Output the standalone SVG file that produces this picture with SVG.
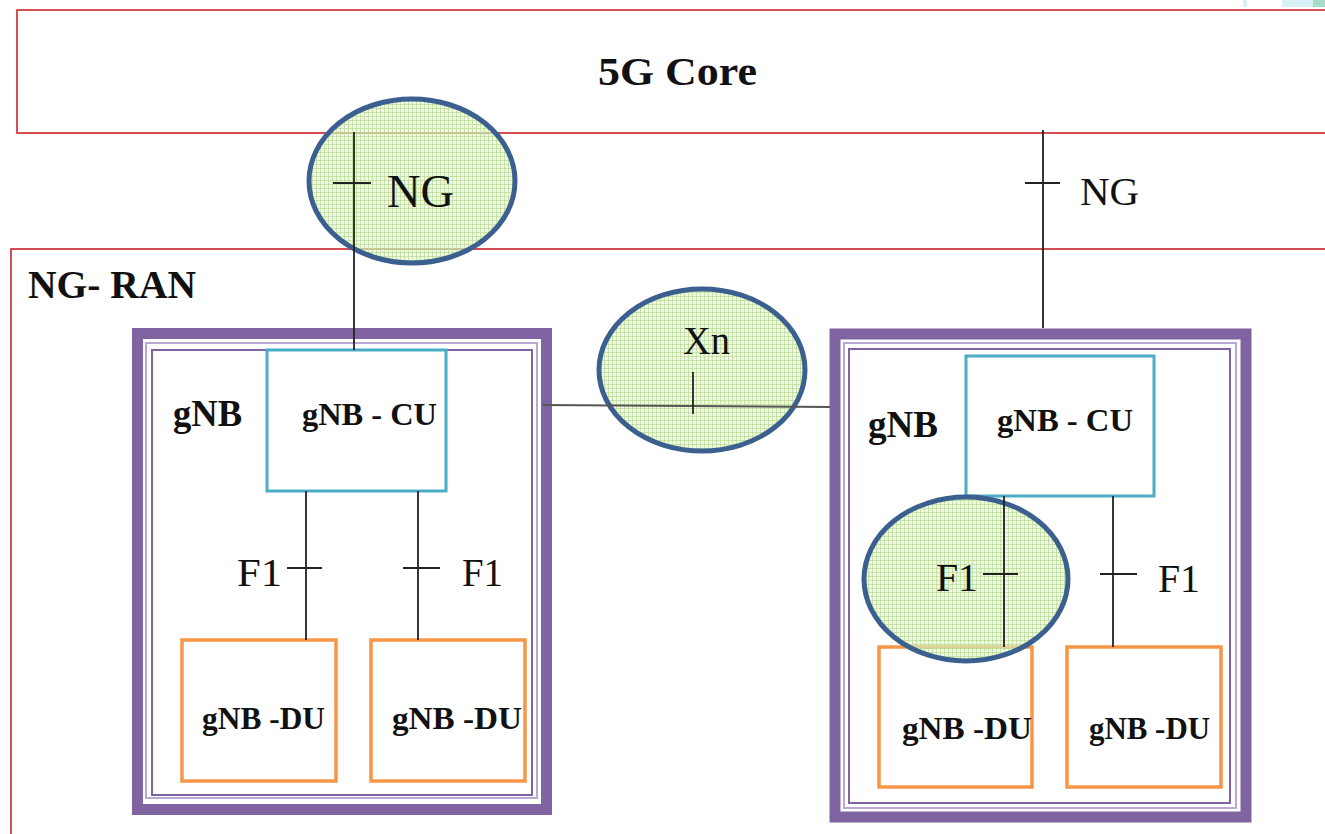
<svg xmlns="http://www.w3.org/2000/svg" width="1325" height="834" viewBox="0 0 1325 834">
<defs>
<pattern id="grid" width="4" height="4" patternUnits="userSpaceOnUse">
<rect width="4" height="4" fill="#E6F1D3" fill-opacity="0.6"/>
<path d="M0 0.5H4M0.5 0V4" stroke="#B2D98A" stroke-width="1" stroke-opacity="0.65"/>
</pattern>
<style>
.red{fill:none;stroke:#CC2228;stroke-width:1.6}
.gout{fill:none;stroke:#8064A2;stroke-width:11}
.glav{fill:none;stroke:#B8A9D4;stroke-width:2}
.gin{fill:none;stroke:#8064A2;stroke-width:2}
.cu{fill:#fff;stroke:#4BACC6;stroke-width:3}
.du{fill:#fff;stroke:#F79646;stroke-width:3.5}
.ln{stroke:#222;stroke-width:1.8;fill:none}
.xn{stroke:#555;stroke-width:2;fill:none}
.ell{fill:url(#grid);stroke:#3B5F8E;stroke-width:5}
.b{font-family:"Liberation Serif","Times New Roman",serif;font-weight:bold;fill:#111}
.r{font-family:"Liberation Serif","Times New Roman",serif;fill:#111}
</style>
</defs>
<rect width="1325" height="834" fill="#fff"/>
<g id="corner-deco">
<rect x="1243" y="0" width="4" height="7" fill="#D8F0F6"/>
<rect x="1282" y="0" width="31" height="7" fill="#D8F0F6"/>
<rect x="1313" y="0" width="12" height="7" fill="#A8DCC8"/>
</g>
<g id="core">
<rect class="red" x="17" y="10" width="1320" height="123"/>
<text class="b" x="598" y="85" font-size="41" textLength="159" lengthAdjust="spacingAndGlyphs">5G Core</text>
</g>
<g id="ngran">
<rect class="red" x="11" y="249" width="1330" height="600"/>
<text class="b" x="28" y="298" font-size="39" textLength="168" lengthAdjust="spacingAndGlyphs">NG- RAN</text>
</g>
<g id="gnb-left">
<rect class="gout" x="137.5" y="333.5" width="409" height="476"/>
<rect class="glav" x="146" y="343" width="391" height="455"/>
<rect class="gin" x="152" y="350" width="380" height="445"/>
<text class="b" x="173" y="426" font-size="37" textLength="69" lengthAdjust="spacingAndGlyphs">gNB</text>
</g>
<g id="gnb-right">
<rect class="gout" x="835" y="334" width="411" height="483"/>
<rect class="glav" x="844" y="343" width="392" height="465"/>
<rect class="gin" x="849" y="349" width="381" height="454"/>
<text class="b" x="868" y="437" font-size="37" textLength="70" lengthAdjust="spacingAndGlyphs">gNB</text>
</g>
<g id="cu-left">
<rect class="cu" x="267" y="350" width="179" height="141"/>
<text class="b" x="302" y="425" font-size="32" textLength="135" lengthAdjust="spacingAndGlyphs">gNB - CU</text>
</g>
<g id="cu-right">
<rect class="cu" x="966" y="356" width="188" height="140"/>
<text class="b" x="997" y="431" font-size="32" textLength="136" lengthAdjust="spacingAndGlyphs">gNB - CU</text>
</g>
<g id="du-left-1">
<rect class="du" x="182" y="640" width="154" height="141"/>
<text class="b" x="202" y="729" font-size="32" textLength="123" lengthAdjust="spacingAndGlyphs">gNB -DU</text>
</g>
<g id="du-left-2">
<rect class="du" x="371" y="640" width="154" height="141"/>
<text class="b" x="392" y="729" font-size="32" textLength="130" lengthAdjust="spacingAndGlyphs">gNB  -DU</text>
</g>
<g id="du-right-1">
<rect class="du" x="879" y="647" width="153" height="140"/>
<text class="b" x="902" y="739" font-size="32" textLength="130" lengthAdjust="spacingAndGlyphs">gNB  -DU</text>
</g>
<g id="du-right-2">
<rect class="du" x="1067" y="647" width="154" height="140"/>
<text class="b" x="1089" y="739" font-size="32" textLength="121" lengthAdjust="spacingAndGlyphs">gNB  -DU</text>
</g>
<g id="ellipse-ng">
<ellipse class="ell" cx="412" cy="181" rx="103" ry="82"/>
</g>
<g id="ellipse-xn">
<ellipse class="ell" cx="702" cy="370" rx="103" ry="81"/>
</g>
<g id="ellipse-f1">
<ellipse class="ell" cx="966" cy="579" rx="102" ry="82"/>
</g>
<g id="connectors">
<line class="ln" x1="354" y1="132" x2="354" y2="350"/>
<line class="ln" x1="333" y1="183" x2="371" y2="183"/>
<line class="ln" x1="1043" y1="130" x2="1043" y2="328"/>
<line class="ln" x1="1025" y1="183" x2="1060" y2="183"/>
<line class="xn" x1="543" y1="405" x2="830" y2="407"/>
<line class="ln" x1="693" y1="372" x2="693" y2="414"/>
<line class="ln" x1="306" y1="491" x2="306" y2="640"/>
<line class="ln" x1="287" y1="568" x2="322" y2="568"/>
<line class="ln" x1="418" y1="491" x2="418" y2="640"/>
<line class="ln" x1="403" y1="568" x2="440" y2="568"/>
<line class="ln" x1="1004" y1="496" x2="1004" y2="647"/>
<line class="ln" x1="983" y1="574" x2="1018" y2="574"/>
<line class="ln" x1="1113" y1="496" x2="1113" y2="647"/>
<line class="ln" x1="1100" y1="574" x2="1137" y2="574"/>
</g>
<g id="labels">
<text class="r" x="387" y="207" font-size="46" textLength="67" lengthAdjust="spacingAndGlyphs">NG</text>
<text class="r" x="1080" y="205" font-size="41">NG</text>
<text class="r" x="683" y="354" font-size="39" textLength="47" lengthAdjust="spacingAndGlyphs">Xn</text>
<text class="r" x="237" y="586" font-size="40" textLength="45" lengthAdjust="spacingAndGlyphs">F1</text>
<text class="r" x="462" y="586" font-size="40" textLength="41" lengthAdjust="spacingAndGlyphs">F1</text>
<text class="r" x="936" y="591" font-size="40" textLength="42" lengthAdjust="spacingAndGlyphs">F1</text>
<text class="r" x="1158" y="592" font-size="40" textLength="42" lengthAdjust="spacingAndGlyphs">F1</text>
</g>
</svg>
